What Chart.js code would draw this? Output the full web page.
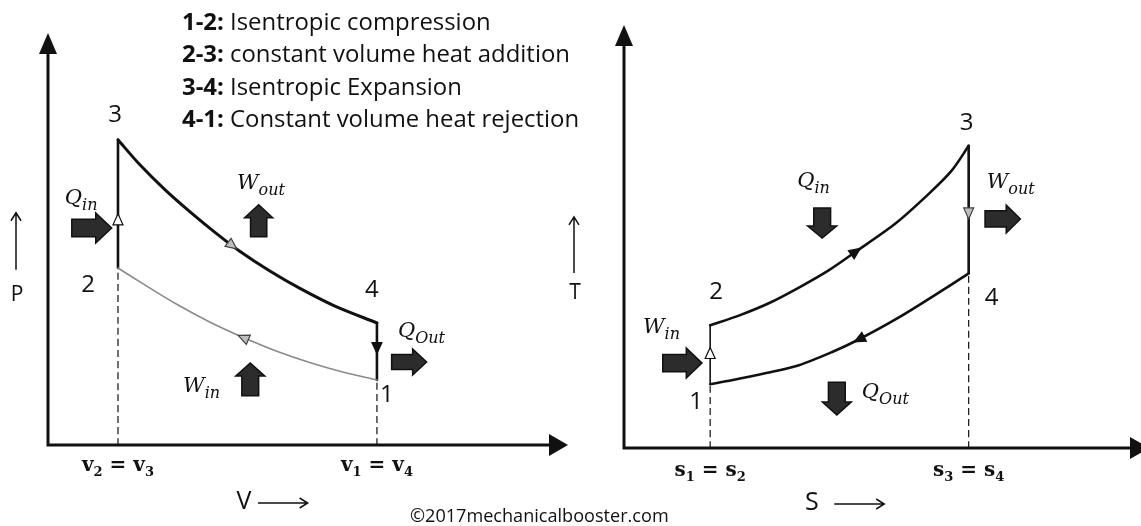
<!DOCTYPE html>
<html>
<head>
<meta charset="utf-8">
<script src="https://cdn.jsdelivr.net/npm/chart.js@4.4.1/dist/chart.umd.min.js"></script>
<style>
  html, body { margin: 0; background: #fff; }
  #wrap { position: relative; width: 1141px; height: 526px; overflow: hidden; }
  #wrap canvas { position: absolute; left: 0; top: 0; }
</style>
</head>
<body>
<div id="wrap">
  <canvas id="pv" width="1141" height="526"></canvas>
  <canvas id="ts" width="1141" height="526"></canvas>
</div>
<script>
// Otto cycle, arbitrary units.
// P-V diagram: states 1..4, expansion 3-4 and compression 1-2
const pvStateNames = ['1', '2', '3', '4'];
const pvStateV = [4.7, 1.0, 1.0, 4.7];
const pvStateP = [2.13, 5.8, 10.0, 4.0];
const pvExpV = [1.0, 1.31, 1.67, 2.03, 2.39, 2.74, 3.17, 3.6, 4.1, 4.7];
const pvExpP = [10.0, 9.19, 8.37, 7.64, 6.96, 6.35, 5.7, 5.13, 4.55, 4.0];
const pvCompV = [4.7, 4.21, 3.74, 3.27, 2.79, 2.31, 1.84, 1.36, 1.0];
const pvCompP = [2.13, 2.39, 2.7, 3.07, 3.52, 4.03, 4.61, 5.28, 5.8];
const pvTickV = [1.0, 4.7];
const pvTickText = [['v', '2', 'v', '3'], ['v', '1', 'v', '4']];
const pvVmax = 7.43, pvPmax = 13.5;

// T-S diagram: heat addition 2-3, heat rejection 4-1
const tsStateNames = ['1', '2', '3', '4'];
const tsStateS = [1.0, 1.0, 4.0, 4.0];
const tsStateT = [2.11, 4.06, 10.0, 5.78];
const tsHeatS = [1.0, 1.34, 1.68, 2.03, 2.37, 2.69, 3.15, 3.54, 3.8, 4.0];
const tsHeatT = [4.06, 4.39, 4.79, 5.31, 5.87, 6.5, 7.43, 8.42, 9.17, 10.0];
const tsRejS = [4.0, 3.73, 3.19, 2.73, 2.41, 2.03, 1.65, 1.25, 1.0];
const tsRejT = [5.78, 5.28, 4.32, 3.6, 3.17, 2.74, 2.48, 2.24, 2.11];
const tsTickS = [1.0, 4.0];
const tsTickText = [['s', '1', 's', '2'], ['s', '3', 's', '4']];
const tsSmax = 6.0, tsTmax = 14.0;

const processIds = ['1-2:', '2-3:', '3-4:', '4-1:'];
const processNames = ['Isentropic compression', 'constant volume heat addition', 'Isentropic Expansion', 'Constant volume heat rejection'];
const credit = '\u00a92017mechanicalbooster.com';

const INK = '#111';
const SANS = '"Open Sans", "DejaVu Sans", sans-serif';
const SERIF = '"DejaVu Serif", serif';

const zip = (xs, ys) => xs.map((x, i) => ({ x, y: ys[i] }));
function seg(xs, ys, a, b) { return [{ x: xs[a], y: ys[a] }, { x: xs[b], y: ys[b] }]; }
function lineDs(data, width, color, dash) {
  return { data, showLine: true, borderColor: color || INK, borderWidth: width, borderDash: dash || [],
    pointRadius: 0, tension: 0.3, fill: false, borderCapStyle: dash ? 'butt' : 'round', borderJoinStyle: 'round' };
}

// ---- drawing helpers ----
function tri(ctx, x, y, dx, dy, len, half) {
  const bx = x - dx * len, by = y - dy * len;
  ctx.beginPath();
  ctx.moveTo(x, y);
  ctx.lineTo(bx - dy * half, by + dx * half);
  ctx.lineTo(bx + dy * half, by - dx * half);
  ctx.closePath();
}
function drawAxes(ctx, a, tipX) {
  ctx.save();
  ctx.strokeStyle = INK; ctx.fillStyle = INK; ctx.lineWidth = 3;
  ctx.beginPath();
  ctx.moveTo(a.left, a.top + 16); ctx.lineTo(a.left, a.bottom); ctx.lineTo(tipX - 14, a.bottom);
  ctx.stroke();
  tri(ctx, a.left, a.top, 0, -1, 21, 9); ctx.fill();
  tri(ctx, tipX, a.bottom, 1, 0, 19, 11); ctx.fill();
  ctx.restore();
}
const markStyles = {
  filled: { fill: INK, stroke: INK },
  open: { fill: '#fff', stroke: INK },
  gray: { fill: '#bdbdbd', stroke: '#444' }
};
function drawMarker(ctx, chart, m) {
  const d = chart.getDatasetMeta(m.ds).data;
  const a = d[m.i], b = d[m.i + 1], p0 = (m.t === 0 && m.i > 0) ? d[m.i - 1] : a;
  const x = a.x + (b.x - a.x) * m.t, y = a.y + (b.y - a.y) * m.t;
  let dx = b.x - p0.x, dy = b.y - p0.y;
  const n = Math.hypot(dx, dy); dx /= n; dy /= n;
  const st = markStyles[m.style];
  ctx.save();
  tri(ctx, x + dx * 5.5, y + dy * 5.5, dx, dy, 11, 5);
  ctx.fillStyle = st.fill; ctx.fill();
  ctx.lineWidth = 1.2; ctx.strokeStyle = st.stroke; ctx.stroke();
  ctx.restore();
}
function blockArrow(ctx, x0, y0, x1, y1, w) {
  const len = Math.hypot(x1 - x0, y1 - y0), dx = (x1 - x0) / len, dy = (y1 - y0) / len;
  const head = len * 0.4, sh = w * 0.29, hw = w / 2, nx = -dy, ny = dx;
  const hx = x1 - dx * head, hy = y1 - dy * head;
  ctx.save();
  ctx.beginPath();
  ctx.moveTo(x0 + nx * sh, y0 + ny * sh);
  ctx.lineTo(hx + nx * sh, hy + ny * sh);
  ctx.lineTo(hx + nx * hw, hy + ny * hw);
  ctx.lineTo(x1, y1);
  ctx.lineTo(hx - nx * hw, hy - ny * hw);
  ctx.lineTo(hx - nx * sh, hy - ny * sh);
  ctx.lineTo(x0 - nx * sh, y0 - ny * sh);
  ctx.closePath();
  ctx.fillStyle = '#2c2c2c'; ctx.fill();
  ctx.lineWidth = 1.5; ctx.strokeStyle = INK; ctx.stroke();
  ctx.restore();
}
function thinArrow(ctx, x0, y0, x1, y1) {
  const len = Math.hypot(x1 - x0, y1 - y0), dx = (x1 - x0) / len, dy = (y1 - y0) / len;
  ctx.save();
  ctx.strokeStyle = INK; ctx.lineWidth = 1.5;
  ctx.beginPath(); ctx.moveTo(x0, y0); ctx.lineTo(x1, y1);
  ctx.moveTo(x1 - dx * 8 - dy * 5, y1 - dy * 8 + dx * 5); ctx.lineTo(x1, y1);
  ctx.lineTo(x1 - dx * 8 + dy * 5, y1 - dy * 8 - dx * 5);
  ctx.stroke();
  ctx.restore();
}
function subLabel(ctx, x, y, main, sub) {
  ctx.save();
  ctx.fillStyle = INK; ctx.textAlign = 'left'; ctx.textBaseline = 'alphabetic';
  ctx.font = 'italic 21px ' + SERIF;
  ctx.fillText(main, x, y);
  const w = ctx.measureText(main).width;
  ctx.font = 'italic 16px ' + SERIF;
  ctx.fillText(sub, x + w, y + 6);
  ctx.restore();
}
function tickLabel(ctx, cx, y, parts) {
  const big = 'bold 20px ' + SERIF, small = 'bold 13px ' + SERIF;
  const pieces = [[parts[0], big, 0], [parts[1], small, 5], [' = ', big, 0], [parts[2], big, 0], [parts[3], small, 5]];
  ctx.save();
  ctx.fillStyle = INK; ctx.textAlign = 'left'; ctx.textBaseline = 'alphabetic';
  let total = 0;
  pieces.forEach(p => { ctx.font = p[1]; total += ctx.measureText(p[0]).width; });
  let x = cx - total / 2;
  pieces.forEach(p => { ctx.font = p[1]; ctx.fillText(p[0], x, y + p[2]); x += ctx.measureText(p[0]).width; });
  ctx.restore();
}
function centerText(ctx, s, x, y, font) {
  ctx.save();
  ctx.fillStyle = INK; ctx.font = font; ctx.textAlign = 'center'; ctx.textBaseline = 'middle';
  ctx.fillText(s, x, y);
  ctx.restore();
}

// shared decoration plugin: axes, arrows on the process lines, labels
function decor(cfg) {
  return {
    id: 'decor',
    afterDraw(chart) {
      const ctx = chart.ctx, a = chart.chartArea;
      const X = v => chart.scales.x.getPixelForValue(v), Y = v => chart.scales.y.getPixelForValue(v);
      drawAxes(ctx, a, a.right + cfg.tipOver);
      cfg.marks.forEach(m => drawMarker(ctx, chart, m));
      cfg.blocks.forEach(b => blockArrow(ctx, X(b[0]), Y(b[1]), X(b[2]), Y(b[3]), b[4]));
      cfg.subs.forEach(s => subLabel(ctx, X(s[0]), Y(s[1]), s[2], s[3]));
      cfg.names.forEach((n, i) => centerText(ctx, n, X(cfg.sx[i]) + cfg.off[i][0], Y(cfg.sy[i]) + cfg.off[i][1], '24px ' + SANS));
      cfg.ticks.forEach((t, i) => tickLabel(ctx, X(t), a.bottom + cfg.tickDy, cfg.tickText[i]));
      // axis names with their little arrows
      centerText(ctx, cfg.yName, a.left - cfg.yNameDx, Y(cfg.yNameAt), '21px ' + SANS);
      thinArrow(ctx, a.left - cfg.yNameDx - 1, Y(cfg.yArrow[0]), a.left - cfg.yNameDx - 1, Y(cfg.yArrow[1]));
      centerText(ctx, cfg.xName, X(cfg.xNameAt), a.bottom + cfg.xNameDy, '25px ' + SANS);
      thinArrow(ctx, X(cfg.xArrow[0]), a.bottom + cfg.xNameDy + 1, X(cfg.xArrow[1]), a.bottom + cfg.xNameDy + 1);
      if (cfg.extra) cfg.extra(ctx);
    }
  };
}

function drawLegend(ctx) {
  ctx.save();
  ctx.fillStyle = INK; ctx.textAlign = 'left'; ctx.textBaseline = 'alphabetic';
  // size the block so the longest line spans the same width as in the sketch
  const base = 21;
  ctx.font = 'bold ' + base + 'px ' + SANS;
  let w = ctx.measureText(processIds[3] + ' ').width;
  ctx.font = base + 'px ' + SANS;
  w += ctx.measureText(processNames[3]).width;
  const size = base * 398 / w;
  processIds.forEach((id, i) => {
    const y = 30 + i * 32.3;
    ctx.font = 'bold ' + size.toFixed(1) + 'px ' + SANS;
    ctx.fillText(id + ' ', 182, y);
    const dx = ctx.measureText(id + ' ').width;
    ctx.font = size.toFixed(1) + 'px ' + SANS;
    ctx.fillText(processNames[i], 182 + dx, y);
  });
  ctx.font = '17px ' + SANS;
  const cw = ctx.measureText(credit).width;
  ctx.font = (17 * 259 / cw).toFixed(1) + 'px ' + SANS;
  ctx.fillText(credit, 410, 522);
  ctx.restore();
}

const common = {
  responsive: false, animation: false, events: [],
  plugins: { legend: { display: false }, tooltip: { enabled: false } }
};

function build() {
  new Chart(document.getElementById('pv'), {
    type: 'scatter',
    data: {
      datasets: [
        lineDs(zip(pvExpV, pvExpP), 3),
        lineDs(zip(pvCompV, pvCompP), 1.6, '#8a8a8a'),
        lineDs(seg(pvStateV, pvStateP, 1, 2), 2.6),
        lineDs(seg(pvStateV, pvStateP, 3, 0), 2.6),
        lineDs([{ x: pvStateV[1], y: 0 }, { x: pvStateV[1], y: pvStateP[1] }], 1.2, INK, [7, 4]),
        lineDs([{ x: pvStateV[0], y: 0 }, { x: pvStateV[0], y: pvStateP[0] }], 1.2, INK, [7, 4])
      ]
    },
    options: Object.assign({}, common, {
      layout: { padding: { left: 48, top: 33, right: 573, bottom: 81 } },
      scales: { x: { type: 'linear', display: false, min: 0, max: pvVmax }, y: { display: false, min: 0, max: pvPmax } }
    }),
    plugins: [decor({
      tipOver: 0,
      marks: [
        { ds: 0, i: 4, t: 0.7, style: 'gray' },
        { ds: 1, i: 4, t: 0, style: 'gray' },
        { ds: 2, i: 0, t: 0.38, style: 'open' },
        { ds: 3, i: 0, t: 0.44, style: 'filled' }
      ],
      blocks: [[0.34, 7.11, 0.91, 7.11, 30], [3.01, 6.82, 3.01, 7.87, 28], [2.89, 1.61, 2.89, 2.69, 29], [4.91, 2.72, 5.41, 2.72, 26]],
      subs: [[0.24, 7.9, 'Q', 'in'], [2.7, 8.39, 'W', 'out'], [1.93, 1.74, 'W', 'in'], [5.0, 3.54, 'Q', 'Out']],
      names: pvStateNames, sx: pvStateV, sy: pvStateP,
      off: [[10, 15], [-30, 17], [-3, -25], [-5, -33]],
      ticks: pvTickV, tickText: pvTickText, tickDy: 26,
      yName: 'P', yNameDx: 31, yNameAt: 4.92, yArrow: [5.74, 7.61],
      xName: 'V', xNameAt: 2.8, xNameDy: 57, xArrow: [3.0, 3.71],
      extra: drawLegend
    })]
  });

  new Chart(document.getElementById('ts'), {
    type: 'scatter',
    data: {
      datasets: [
        lineDs(zip(tsHeatS, tsHeatT), 2.6),
        lineDs(zip(tsRejS, tsRejT), 2.6),
        lineDs(seg(tsStateS, tsStateT, 2, 3), 2.6),
        lineDs(seg(tsStateS, tsStateT, 0, 1), 1.6),
        lineDs([{ x: tsStateS[0], y: 0 }, { x: tsStateS[0], y: tsStateT[0] }], 1.2, INK, [7, 4]),
        lineDs([{ x: tsStateS[3], y: 0 }, { x: tsStateS[3], y: tsStateT[3] }], 1.2, INK, [7, 4])
      ]
    },
    options: Object.assign({}, common, {
      layout: { padding: { left: 624, top: 25, right: 0, bottom: 78 } },
      scales: { x: { type: 'linear', display: false, min: 0, max: tsSmax }, y: { display: false, min: 0, max: tsTmax } }
    }),
    plugins: [decor({
      tipOver: 8,
      marks: [
        { ds: 0, i: 5, t: 0, style: 'filled' },
        { ds: 1, i: 3, t: 0, style: 'filled' },
        { ds: 2, i: 0, t: 0.53, style: 'gray' },
        { ds: 3, i: 0, t: 0.53, style: 'open' }
      ],
      blocks: [[0.45, 2.81, 0.905, 2.81, 30], [2.30, 7.94, 2.30, 6.95, 29], [4.19, 7.58, 4.60, 7.58, 28], [2.47, 2.18, 2.47, 1.09, 29]],
      subs: [[0.22, 3.81, 'W', 'in'], [2.01, 8.64, 'Q', 'in'], [4.21, 8.61, 'W', 'out'], [2.76, 1.66, 'Q', 'Out']],
      names: tsStateNames, sx: tsStateS, sy: tsStateT,
      off: [[-14, 18], [6, -33], [-2, -23], [23, 25]],
      ticks: tsTickS, tickText: tsTickText, tickDy: 28,
      yName: 'T', yNameDx: 49, yNameAt: 5.13, yArrow: [5.79, 7.65],
      xName: 'S', xNameAt: 2.18, xNameDy: 55, xArrow: [2.44, 3.02]
    })]
  });
}

// make sure text metrics come from the real faces before sizing the legend
Promise.all([
  document.fonts.load('21px "Open Sans"'),
  document.fonts.load('bold 21px "Open Sans"'),
  document.fonts.load('italic 21px "DejaVu Serif"'),
  document.fonts.load('bold 20px "DejaVu Serif"')
]).catch(() => {}).then(build);
</script>
</body>
</html>
